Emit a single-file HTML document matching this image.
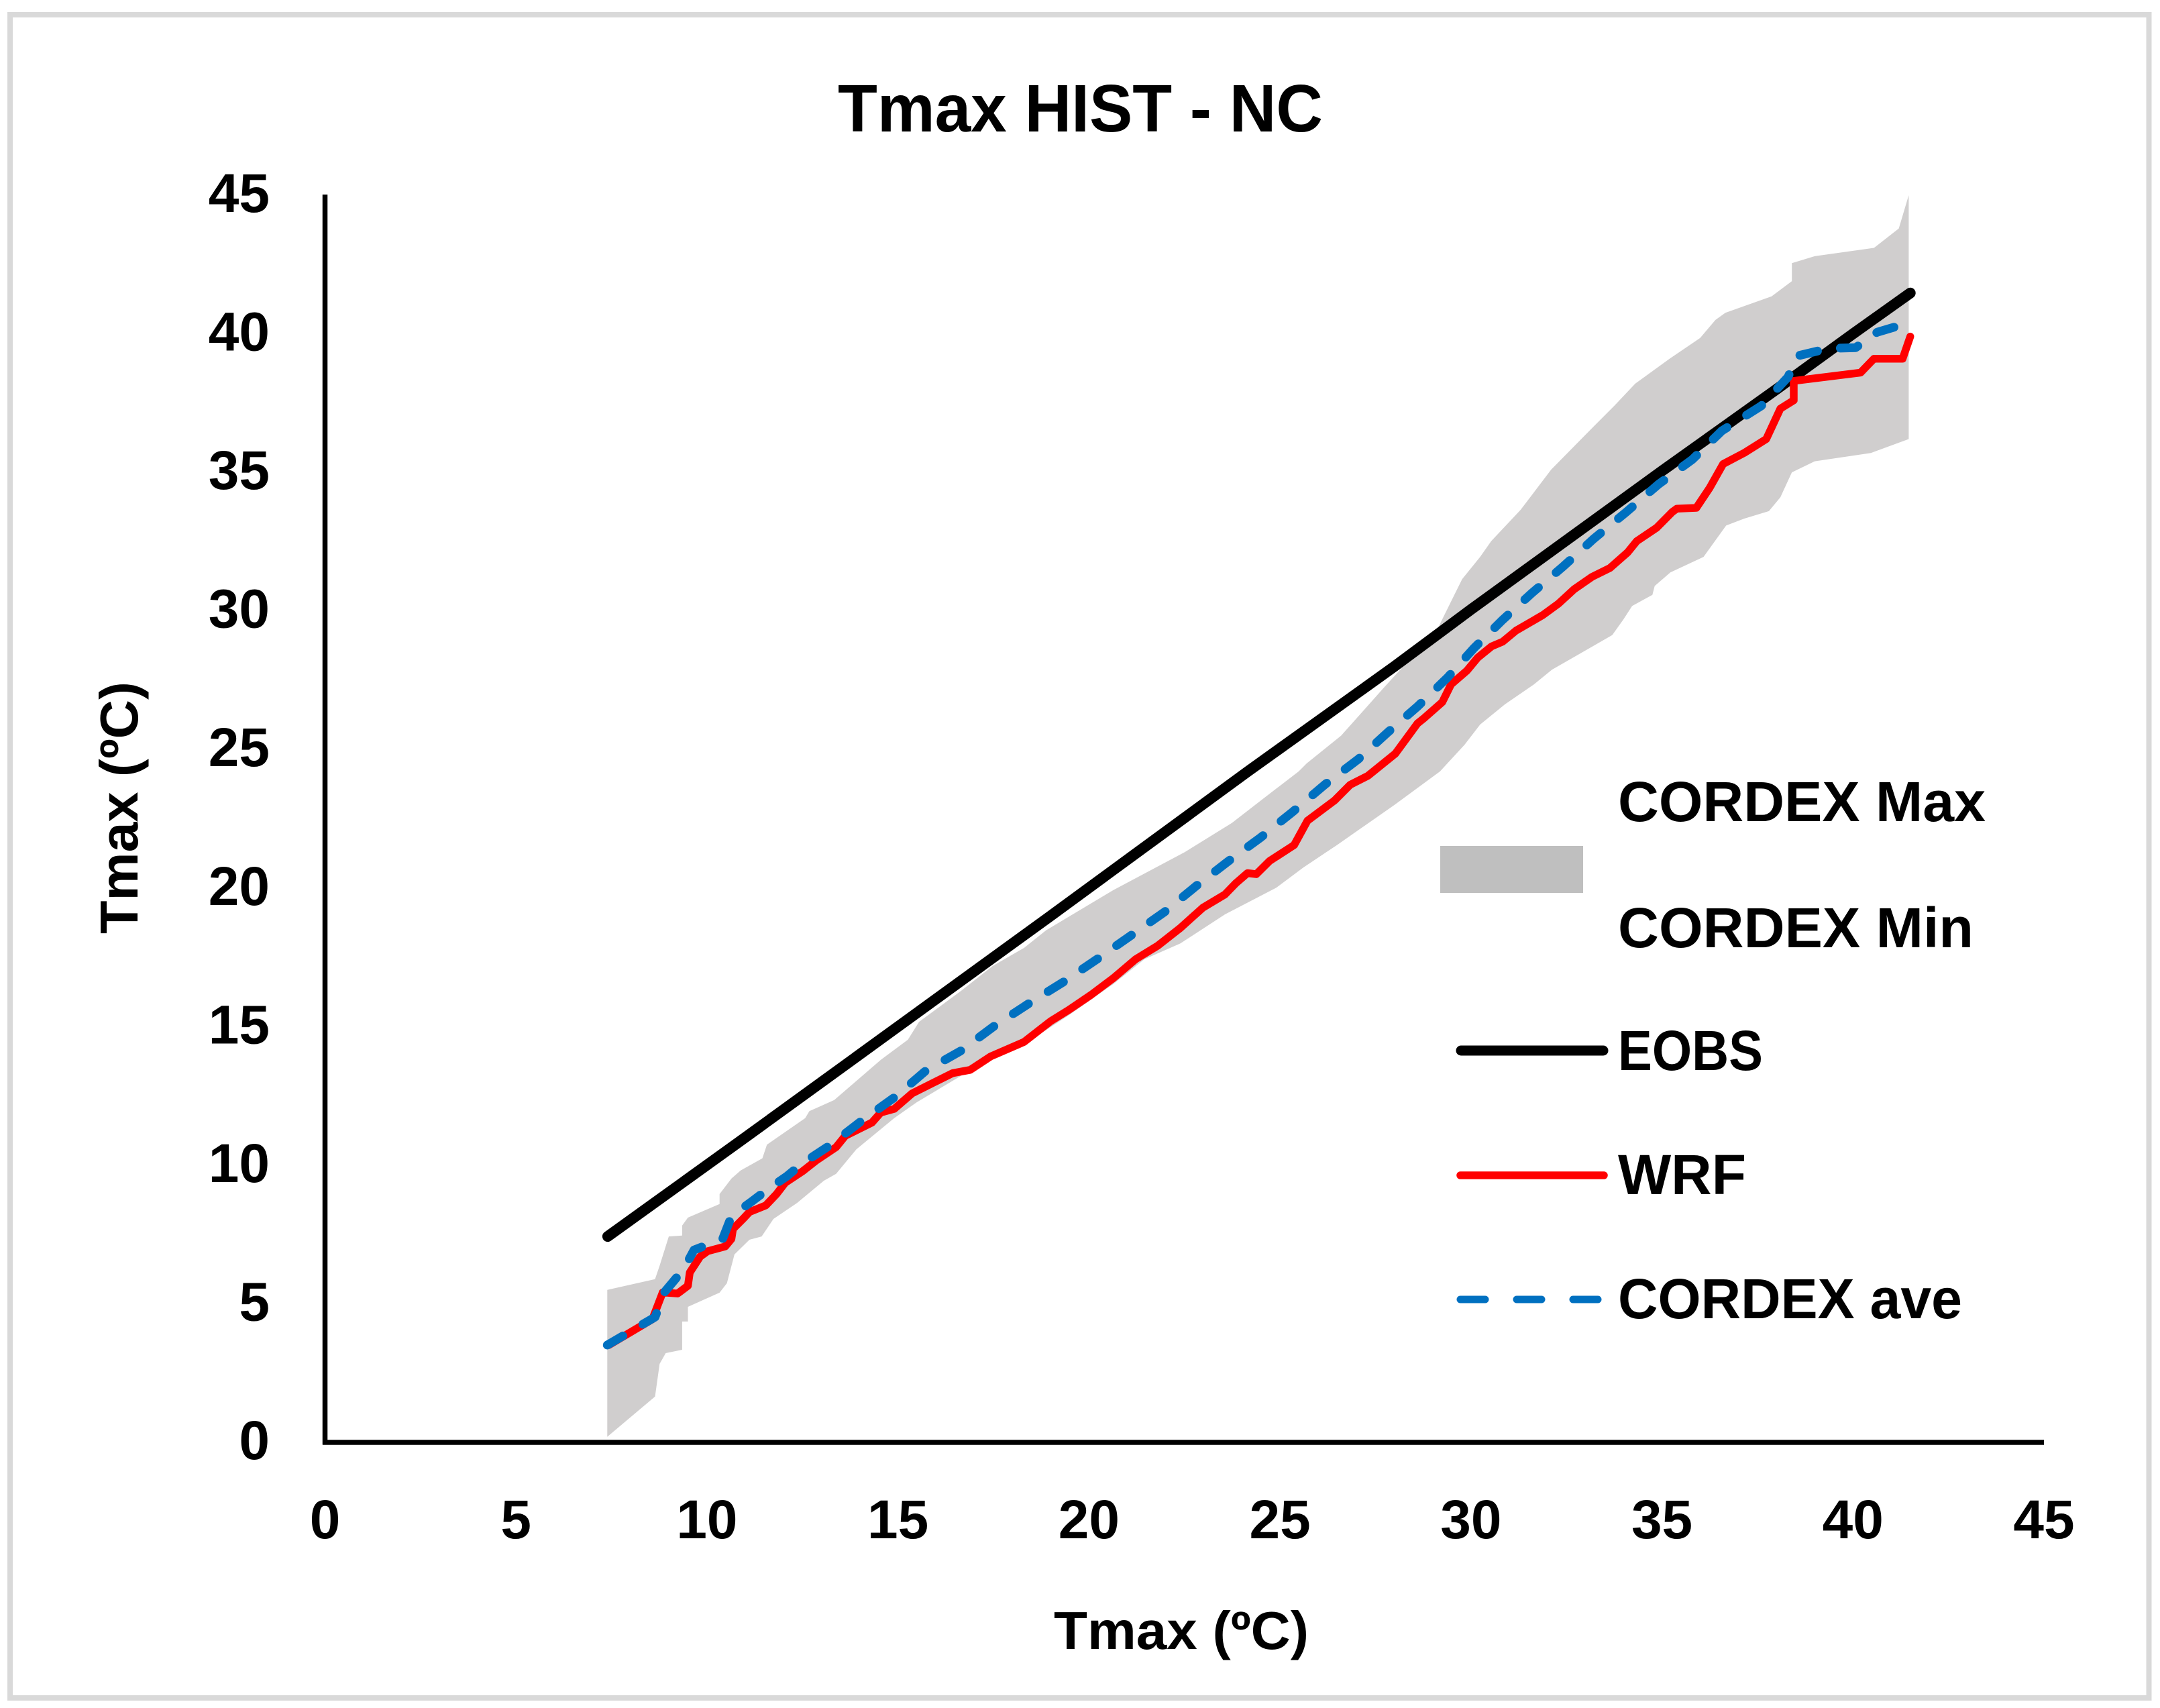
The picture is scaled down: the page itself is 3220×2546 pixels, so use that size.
<!DOCTYPE html>
<html>
<head>
<meta charset="utf-8">
<title>Tmax HIST - NC</title>
<style>
html,body{margin:0;padding:0;background:#fff;}
svg{display:block;}
text{font-family:"Liberation Sans",sans-serif;font-weight:bold;fill:#000;}
</style>
</head>
<body>
<svg id="chart" xmlns="http://www.w3.org/2000/svg" width="3220" height="2546" viewBox="0 0 3220 2546">
  <rect x="0" y="0" width="3220" height="2546" fill="#fff"/>
  <rect x="15" y="22" width="3188.5" height="2509" fill="none" stroke="#d9d9d9" stroke-width="8"/>
  <text x="1249" y="196" font-size="100" textLength="723" lengthAdjust="spacingAndGlyphs">Tmax HIST - NC</text>
  <g id="band-layer"></g>
  <g id="line-layer"></g>
  <line x1="484.5" y1="290" x2="484.5" y2="2153.5" stroke="#000" stroke-width="7.5"/>
  <line x1="481" y1="2150" x2="3047" y2="2150" stroke="#000" stroke-width="7.5"/>
  <g id="x-ticks"></g>
  <g id="y-ticks"></g>
  <text x="1761" y="2458" font-size="80" text-anchor="middle" textLength="380" lengthAdjust="spacingAndGlyphs">Tmax (ºC)</text>
  <text transform="translate(205,1204) rotate(-90)" x="0" y="0" font-size="80" text-anchor="middle" textLength="376" lengthAdjust="spacingAndGlyphs">Tmax (ºC)</text>
  <g>
    <rect x="2147" y="1261" width="213" height="70" fill="#bfbfbf"/>
    <text x="2412" y="1224" font-size="84" textLength="548" lengthAdjust="spacingAndGlyphs">CORDEX Max</text>
    <text x="2412" y="1412" font-size="84" textLength="530" lengthAdjust="spacingAndGlyphs">CORDEX Min</text>
    <line x1="2178" y1="1566" x2="2390" y2="1566" stroke="#000" stroke-width="15" stroke-linecap="round"/>
    <text x="2412" y="1595" font-size="84" textLength="216" lengthAdjust="spacingAndGlyphs">EOBS</text>
    <line x1="2177" y1="1752" x2="2391" y2="1752" stroke="#ff0000" stroke-width="11.5" stroke-linecap="round"/>
    <text x="2412" y="1780" font-size="84" textLength="191" lengthAdjust="spacingAndGlyphs">WRF</text>
    <line x1="2177" y1="1937" x2="2388" y2="1937" stroke="#0070c0" stroke-width="11" stroke-linecap="round" stroke-dasharray="37 47"/>
    <text x="2412" y="1965" font-size="84" textLength="513" lengthAdjust="spacingAndGlyphs">CORDEX ave</text>
  </g>
</svg>
<script>
var xTickLabels = [0, 5, 10, 15, 20, 25, 30, 35, 40, 45];
var yTickLabels = [0, 5, 10, 15, 20, 25, 30, 35, 40, 45];

var bandUpperX = [7.39, 8.64, 8.76, 9.0, 9.35, 9.35, 9.5, 10.33, 10.33, 10.64, 10.88, 11.45, 11.57, 12.57, 12.68, 13.33, 14.55, 15.26, 15.55, 16.66, 17.48, 18.3, 18.88, 20.64, 22.51, 23.74, 24.5, 25.49, 25.7, 26.6, 27.7, 29.13, 29.77, 30.24, 30.53, 31.3, 32.1, 33.1, 33.75, 34.3, 35.2, 36.0, 36.4, 36.66, 37.87, 38.4, 38.4, 39.0, 40.55, 41.2, 41.46];
var bandUpperY = [5.5, 5.89, 6.37, 7.43, 7.46, 7.82, 8.11, 8.6, 8.96, 9.52, 9.81, 10.25, 10.74, 11.7, 11.95, 12.35, 13.8, 14.53, 15.17, 16.3, 17.19, 17.84, 18.48, 19.93, 21.3, 22.35, 23.16, 24.21, 24.5, 25.5, 27.2, 29.37, 31.15, 31.95, 32.52, 33.65, 35.1, 36.5, 37.4, 38.2, 39.1, 39.85, 40.5, 40.76, 41.35, 41.9, 42.55, 42.8, 43.1, 43.8, 45.0];
var bandLowerX = [7.39, 8.64, 8.76, 8.92, 9.35, 9.35, 9.5, 9.5, 10.33, 10.52, 10.72, 11.11, 11.43, 11.74, 12.36, 13.06, 13.38, 13.91, 14.9, 15.49, 17.25, 18.4, 19.47, 20.64, 21.45, 22.39, 23.56, 24.9, 25.61, 26.49, 28.0, 29.19, 29.83, 30.24, 30.89, 31.65, 32.12, 32.88, 33.7, 33.99, 34.22, 34.75, 34.81, 35.22, 36.09, 36.68, 37.15, 37.8, 38.1, 38.4, 39.0, 40.47, 41.46];
var bandLowerY = [0.2, 1.65, 2.83, 3.22, 3.34, 4.36, 4.36, 4.89, 5.4, 5.74, 6.78, 7.31, 7.43, 8.06, 8.64, 9.44, 9.69, 10.57, 11.7, 12.27, 13.72, 14.45, 15.41, 16.54, 17.43, 18.0, 19.05, 20.01, 20.74, 21.55, 23.0, 24.21, 25.17, 25.9, 26.63, 27.35, 27.88, 28.48, 29.13, 29.69, 30.18, 30.58, 30.9, 31.39, 31.95, 33.08, 33.33, 33.6, 34.1, 35.0, 35.4, 35.7, 36.2];

var eobsX = [7.4, 10.81, 13.0, 15.0, 19.0, 24.15, 28.0, 30.0, 35.0, 38.0, 40.0, 41.5];
var eobsY = [7.43, 10.81, 13.0, 15.0, 19.0, 24.2, 28.0, 30.05, 35.05, 38.0, 40.0, 41.47];

var wrfX = [7.43, 8.57, 8.84, 9.23, 9.5, 9.55, 9.82, 10.02, 10.48, 10.64, 10.68, 10.95, 11.11, 11.54, 11.82, 12.05, 12.5, 12.86, 13.38, 13.62, 14.32, 14.55, 14.9, 15.37, 15.96, 16.43, 16.89, 17.42, 18.3, 19.0, 19.47, 20.05, 20.64, 21.22, 21.8, 22.39, 22.98, 23.56, 23.85, 24.15, 24.38, 24.73, 25.37, 25.72, 26.43, 26.84, 27.3, 28.02, 28.6, 28.78, 29.25, 29.48, 29.89, 30.18, 30.54, 30.83, 31.18, 31.88, 32.29, 32.7, 33.17, 33.64, 34.1, 34.34, 34.86, 35.27, 35.39, 35.9, 36.25, 36.6, 37.15, 37.73, 38.1, 38.45, 38.45, 40.2, 40.55, 41.3, 41.5];
var wrfY = [3.51, 4.44, 5.41, 5.37, 5.65, 6.13, 6.7, 6.9, 7.07, 7.34, 7.7, 8.07, 8.31, 8.55, 8.96, 9.37, 9.78, 10.17, 10.65, 11.06, 11.54, 11.9, 12.03, 12.59, 13.0, 13.32, 13.44, 13.92, 14.45, 15.2, 15.6, 16.14, 16.75, 17.43, 17.92, 18.56, 19.29, 19.77, 20.18, 20.54, 20.5, 20.98, 21.55, 22.43, 23.16, 23.73, 24.05, 24.85, 25.94, 26.14, 26.71, 27.35, 27.84, 28.32, 28.72, 28.89, 29.29, 29.85, 30.26, 30.78, 31.23, 31.55, 32.11, 32.52, 33.0, 33.57, 33.69, 33.72, 34.44, 35.3, 35.7, 36.2, 37.3, 37.6, 38.3, 38.6, 39.1, 39.1, 39.9];

var cordexAveX = [7.39, 8.64, 8.88, 9.39, 9.66, 10.41, 10.64, 11.19, 11.62, 12.09, 12.48, 13.2, 14.03, 14.93, 15.72, 16.66, 17.51, 18.41, 19.34, 20.21, 21.09, 21.97, 22.81, 23.65, 24.5, 25.34, 26.18, 27.05, 27.83, 28.6, 29.39, 30.08, 30.83, 31.6, 32.41, 33.21, 34.05, 34.9, 35.8, 36.57, 37.6, 38.3, 38.54, 39.35, 40.07, 40.64, 41.3];
var cordexAveY = [3.51, 4.52, 5.41, 6.25, 6.94, 7.34, 8.15, 8.71, 9.16, 9.6, 10.05, 10.7, 11.58, 12.47, 13.4, 14.14, 15.01, 15.82, 16.62, 17.43, 18.28, 19.13, 20.08, 20.97, 21.83, 22.76, 23.74, 24.65, 25.63, 26.55, 27.6, 28.66, 29.68, 30.65, 31.6, 32.6, 33.55, 34.56, 35.47, 36.5, 37.4, 38.44, 39.2, 39.47, 39.5, 40.06, 40.33];

var SVG_NS = "http://www.w3.org/2000/svg";
var plotLeft = 484.5, plotRight = 3047, plotTop = 291, plotBottom = 2150, axisMax = 45;

function xScale(v) { return plotLeft + v / axisMax * (plotRight - plotLeft); }
function yScale(v) { return plotBottom - v / axisMax * (plotBottom - plotTop); }

function pointsOf(xs, ys) {
  var out = [];
  for (var i = 0; i < xs.length; i++) {
    out.push(xScale(xs[i]).toFixed(1) + "," + yScale(ys[i]).toFixed(1));
  }
  return out;
}

var bandLayer = document.getElementById("band-layer");
var lineLayer = document.getElementById("line-layer");

var bandPoly = document.createElementNS(SVG_NS, "polygon");


bandPoly.setAttribute("points", pointsOf(bandUpperX, bandUpperY).concat(pointsOf(bandLowerX, bandLowerY).reverse()).join(" "));
bandPoly.setAttribute("fill", "#d0cece");
bandLayer.appendChild(bandPoly);

var eobsLine = document.createElementNS(SVG_NS, "polyline");


eobsLine.setAttribute("points", pointsOf(eobsX, eobsY).join(" "));
eobsLine.setAttribute("fill", "none");
eobsLine.setAttribute("stroke", "#000");
eobsLine.setAttribute("stroke-width", "16");
eobsLine.setAttribute("stroke-linecap", "round");
eobsLine.setAttribute("stroke-linejoin", "round");
lineLayer.appendChild(eobsLine);

var wrfLine = document.createElementNS(SVG_NS, "polyline");


wrfLine.setAttribute("points", pointsOf(wrfX, wrfY).join(" "));
wrfLine.setAttribute("fill", "none");
wrfLine.setAttribute("stroke", "#ff0000");
wrfLine.setAttribute("stroke-width", "11.5");
wrfLine.setAttribute("stroke-linecap", "round");
wrfLine.setAttribute("stroke-linejoin", "round");
lineLayer.appendChild(wrfLine);

var aveLine = document.createElementNS(SVG_NS, "polyline");


aveLine.setAttribute("points", pointsOf(cordexAveX, cordexAveY).join(" "));
aveLine.setAttribute("fill", "none");
aveLine.setAttribute("stroke", "#0070c0");
aveLine.setAttribute("stroke-width", "13");
aveLine.setAttribute("stroke-linecap", "round");
aveLine.setAttribute("stroke-linejoin", "round");
aveLine.setAttribute("stroke-dasharray", "27 34.5");
lineLayer.appendChild(aveLine);

var xTicks = document.getElementById("x-ticks");
xTickLabels.forEach(function (t) {
  var label = document.createElementNS(SVG_NS, "text");
  
  
  label.setAttribute("x", xScale(t));
  label.setAttribute("y", 2293);
  label.setAttribute("font-size", "82");
  label.setAttribute("text-anchor", "middle");
  label.textContent = t;
  xTicks.appendChild(label);
});

var yTicks = document.getElementById("y-ticks");
yTickLabels.forEach(function (t) {
  var label = document.createElementNS(SVG_NS, "text");
  
  
  label.setAttribute("x", 402);
  label.setAttribute("y", yScale(t) + 25);
  label.setAttribute("font-size", "82");
  label.setAttribute("text-anchor", "end");
  label.textContent = t;
  yTicks.appendChild(label);
});
</script>
</body>
</html>
